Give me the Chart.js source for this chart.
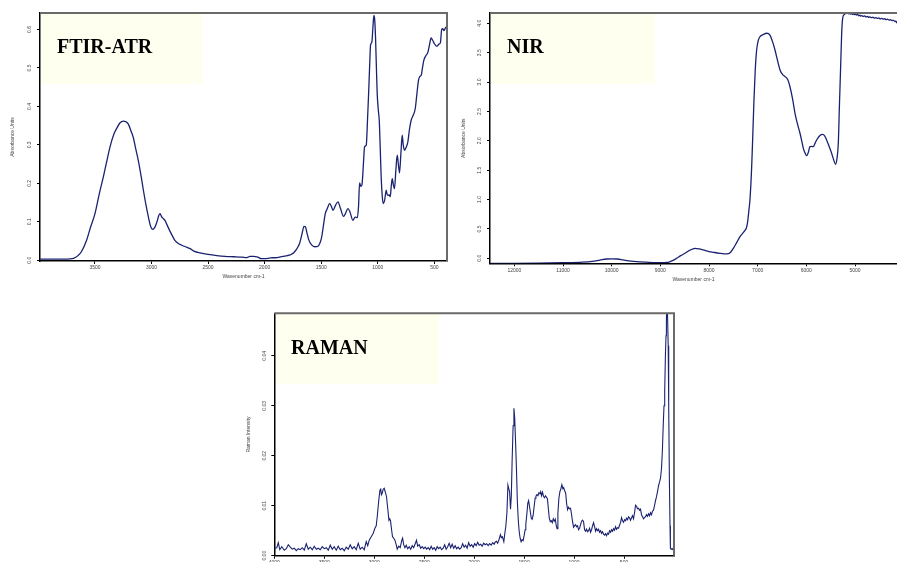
<!DOCTYPE html>
<html>
<head>
<meta charset="utf-8">
<script src="https://cdn.jsdelivr.net/npm/chart.js@4.4.1/dist/chart.umd.min.js"></script>
<style>
body { margin: 0; width: 897px; height: 562px; overflow: hidden; background: #fff; position: relative; }
canvas { position: absolute; z-index: 2; }
.box { position: absolute; background: #fffff0; z-index: 1; }
.name { position: absolute; z-index: 3; font: bold 20px "Liberation Serif", "Times New Roman", serif; line-height: 20px; color: #000; white-space: nowrap; }
</style>
</head>
<body>
<div class="box" style="left:41px;top:14px;width:162px;height:70px"></div>
<div class="name" style="left:57px;top:36px">FTIR-ATR</div>
<div class="box" style="left:491px;top:14px;width:164px;height:70px"></div>
<div class="name" style="left:507px;top:36px">NIR</div>
<div class="box" style="left:275px;top:314px;width:164px;height:70px"></div>
<div class="name" style="left:291px;top:337px">RAMAN</div>

<canvas id="ftir" width="450" height="285" style="left:0;top:0"></canvas>
<canvas id="nir" width="447" height="290" style="left:450px;top:0"></canvas>
<canvas id="raman" width="450" height="285" style="left:230px;top:300px"></canvas>

<script>
// FTIR-ATR spectrum, wavenumber (cm-1) and absorbance
const ftirWavenumber = [3986, 3850, 3750, 3690, 3650, 3620, 3574, 3540, 3500, 3460, 3426, 3390, 3367, 3330, 3308, 3280, 3249, 3225, 3205, 3180,
  3160, 3140, 3116, 3090, 3072, 3050, 3028, 3010, 2990, 2970, 2954, 2935, 2925, 2910, 2895, 2880, 2860, 2836, 2810, 2792,
  2760, 2733, 2700, 2659, 2620, 2571, 2500, 2423, 2350, 2276, 2200, 2158, 2130, 2099, 2060, 2030, 2000, 1950, 1892, 1840,
  1800, 1774, 1740, 1715, 1690, 1670, 1652, 1640, 1625, 1610, 1585, 1558, 1530, 1514, 1500, 1493, 1478, 1464, 1445, 1426,
  1410, 1396, 1375, 1352, 1330, 1302, 1285, 1264, 1245, 1220, 1200, 1181, 1170, 1161, 1150, 1140, 1125, 1117, 1102, 1090,
  1081, 1070, 1064, 1052, 1042, 1034, 1027, 1020, 1012, 1005, 995, 987, 978, 970, 960, 952, 940, 925, 918, 911,
  900, 890, 880, 872, 862, 852, 840, 828, 818, 808, 795, 784, 775, 763, 750, 734, 720, 705, 690, 669,
  655, 640, 628, 616, 605, 593, 575, 558, 545, 528, 515, 499, 485, 475, 460, 446, 435, 425, 415, 400, 388];
const ftirAbsorbance = [0.003, 0.003, 0.003, 0.005, 0.012, 0.022, 0.052, 0.085, 0.121, 0.175, 0.217, 0.265, 0.295, 0.330, 0.343, 0.357, 0.362, 0.360, 0.354, 0.335,
  0.318, 0.290, 0.258, 0.215, 0.182, 0.145, 0.113, 0.090, 0.080, 0.086, 0.098, 0.117, 0.121, 0.113, 0.108, 0.103, 0.090, 0.075, 0.060, 0.051,
  0.043, 0.039, 0.035, 0.030, 0.023, 0.019, 0.015, 0.012, 0.010, 0.009, 0.008, 0.007, 0.010, 0.010, 0.008, 0.004, 0.004, 0.006, 0.007, 0.010,
  0.012, 0.014, 0.020, 0.030, 0.045, 0.068, 0.088, 0.087, 0.070, 0.053, 0.040, 0.035, 0.036, 0.043, 0.055, 0.065, 0.095, 0.121, 0.135, 0.147,
  0.140, 0.130, 0.142, 0.152, 0.135, 0.114, 0.122, 0.134, 0.125, 0.104, 0.112, 0.111, 0.140, 0.201, 0.192, 0.196, 0.260, 0.295, 0.299, 0.370,
  0.433, 0.520, 0.559, 0.568, 0.610, 0.637, 0.625, 0.581, 0.500, 0.433, 0.390, 0.364, 0.290, 0.217, 0.165, 0.147, 0.155, 0.182, 0.172, 0.169,
  0.170, 0.165, 0.195, 0.212, 0.196, 0.186, 0.235, 0.273, 0.250, 0.227, 0.280, 0.325, 0.300, 0.286, 0.293, 0.308, 0.340, 0.364, 0.375, 0.394,
  0.430, 0.468, 0.478, 0.481, 0.500, 0.520, 0.532, 0.540, 0.557, 0.578, 0.572, 0.563, 0.558, 0.557, 0.562, 0.566, 0.600, 0.602, 0.597, 0.605, 0.608];
const ftirXTicks = [3500, 3000, 2500, 2000, 1500, 1000, 500];
const ftirYTicks = [0, 0.1, 0.2, 0.3, 0.4, 0.5, 0.6];

// NIR spectrum
const nirWavenumber = [12500, 12000, 11500, 11000, 10600, 10400, 10240, 10100, 10000, 9880, 9760, 9600, 9486, 9300, 9075, 8900, 8836, 8750, 8665, 8580,
  8493, 8400, 8288, 8200, 8117, 8000, 7911, 7780, 7637, 7560, 7500, 7430, 7363, 7281, 7230, 7206, 7180, 7158, 7123, 7100,
  7076, 7050, 7021, 6990, 6952, 6880, 6815, 6747, 6700, 6644, 6590, 6541, 6490, 6438, 6380, 6336, 6280, 6233, 6180, 6130,
  6090, 6062, 6025, 5993, 5960, 5925, 5890, 5856, 5820, 5788, 5720, 5665, 5620, 5583, 5530, 5480, 5440, 5398, 5370, 5343,
  5320, 5295, 5275, 5254, 5220, 5190, 5170, 5150, 5130, 5110, 5090, 5070, 5050, 5030, 5010, 4990, 4967, 4945, 4920, 4900,
  4880, 4860, 4830, 4800, 4770, 4740, 4720, 4693, 4660, 4630, 4600, 4570, 4540, 4510, 4480, 4450, 4419, 4390, 4360, 4330,
  4300, 4270, 4240, 4210, 4180, 4160, 4137];
const nirAbsorbance = [-0.085, -0.085, -0.082, -0.075, -0.065, -0.052, -0.030, -0.012, -0.008, -0.012, -0.028, -0.048, -0.057, -0.066, -0.074, -0.072, -0.068, -0.040, 0.000, 0.045,
  0.085, 0.135, 0.170, 0.160, 0.142, 0.115, 0.102, 0.085, 0.074, 0.100, 0.170, 0.270, 0.369, 0.454, 0.520, 0.620, 0.820, 1.000, 1.560, 2.100,
  2.695, 3.200, 3.546, 3.700, 3.773, 3.810, 3.830, 3.800, 3.700, 3.546, 3.360, 3.206, 3.130, 3.092, 3.040, 2.920, 2.700, 2.468, 2.280, 2.128,
  1.980, 1.872, 1.790, 1.748, 1.800, 1.900, 1.905, 1.900, 1.960, 2.014, 2.090, 2.110, 2.080, 2.014, 1.900, 1.787, 1.680, 1.600, 1.700, 1.957,
  2.600, 3.262, 3.800, 4.085, 4.150, 4.170, 4.165, 4.175, 4.160, 4.172, 4.158, 4.168, 4.150, 4.162, 4.145, 4.155, 4.140, 4.150, 4.128, 4.140,
  4.122, 4.132, 4.118, 4.125, 4.108, 4.118, 4.100, 4.110, 4.095, 4.103, 4.088, 4.096, 4.082, 4.090, 4.075, 4.083, 4.070, 4.078, 4.062, 4.070,
  4.055, 4.062, 4.045, 4.050, 4.030, 4.035, 4.000];
const nirXTicks = [12000, 11000, 10000, 9000, 8000, 7000, 6000, 5000];
const nirYTicks = [0, 0.5, 1, 1.5, 2, 2.5, 3, 3.5, 4];

// Raman spectrum
const ramanShift = [4000, 3975, 3960, 3945, 3925, 3900, 3880, 3860, 3840, 3820, 3800, 3780, 3760, 3740, 3720, 3700, 3680, 3660, 3640, 3620,
  3600, 3580, 3560, 3540, 3520, 3500, 3480, 3460, 3440, 3420, 3400, 3380, 3360, 3340, 3320, 3300, 3280, 3260, 3240, 3220,
  3200, 3180, 3160, 3140, 3120, 3100, 3080, 3065, 3050, 3030, 3010, 2993, 2980, 2970, 2955, 2943, 2935, 2928, 2920, 2910,
  2900, 2890, 2877, 2865, 2853, 2845, 2837, 2825, 2817, 2805, 2793, 2780, 2770, 2755, 2740, 2725, 2716, 2705, 2693, 2680,
  2665, 2650, 2635, 2620, 2605, 2590, 2577, 2565, 2550, 2535, 2520, 2505, 2490, 2475, 2460, 2445, 2430, 2415, 2400, 2385,
  2370, 2355, 2340, 2325, 2310, 2295, 2280, 2265, 2250, 2235, 2220, 2205, 2190, 2175, 2160, 2145, 2130, 2115, 2100, 2085,
  2070, 2055, 2040, 2025, 2010, 1995, 1980, 1965, 1950, 1935, 1920, 1905, 1890, 1875, 1860, 1845, 1830, 1815, 1800, 1790,
  1777, 1765, 1750, 1737, 1727, 1717, 1703, 1693, 1683, 1672, 1662, 1655, 1645, 1636, 1628, 1620, 1610, 1602, 1594, 1585,
  1576, 1568, 1558, 1550, 1540, 1530, 1520, 1510, 1500, 1490, 1483, 1472, 1463, 1455, 1447, 1438, 1428, 1420, 1410, 1400,
  1390, 1382, 1372, 1362, 1352, 1342, 1334, 1326, 1316, 1306, 1296, 1286, 1276, 1266, 1258, 1248, 1238, 1228, 1218, 1208,
  1198, 1188, 1178, 1170, 1162, 1152, 1142, 1132, 1122, 1112, 1104, 1094, 1084, 1075, 1065, 1055, 1045, 1035, 1025, 1015,
  1005, 995, 985, 975, 965, 955, 945, 935, 925, 915, 905, 895, 885, 875, 865, 855, 845, 835, 825, 815,
  805, 795, 785, 775, 765, 755, 745, 735, 725, 715, 705, 695, 685, 675, 665, 655, 645, 635, 625, 615,
  605, 595, 585, 575, 565, 555, 545, 535, 525, 515, 505, 495, 485, 475, 465, 455, 445, 435, 425, 415,
  405, 395, 385, 375, 365, 355, 345, 335, 325, 315, 305, 295, 285, 275, 265, 255, 245, 235, 225, 215,
  205, 195, 185, 175, 165, 155, 145, 135, 125, 116, 108, 100, 93, 86, 80, 76, 70, 64, 58, 53,
  46, 40, 36, 28, 20, 12, 6, 0];
const ramanIntensity = [0.0015, 0.0016, 0.0026, 0.0012, 0.0018, 0.0011, 0.0014, 0.0022, 0.0017, 0.0013, 0.0015, 0.0010, 0.0014, 0.0012, 0.0016, 0.0011, 0.0024, 0.0013, 0.0017, 0.0012,
  0.0019, 0.0013, 0.0015, 0.0012, 0.0018, 0.0014, 0.0016, 0.0011, 0.0021, 0.0013, 0.0018, 0.0011, 0.0019, 0.0012, 0.0015, 0.0010, 0.0017, 0.0013, 0.0022, 0.0014,
  0.0018, 0.0012, 0.0025, 0.0013, 0.0017, 0.0012, 0.0028, 0.0020, 0.0031, 0.0038, 0.0045, 0.0055, 0.0060, 0.0078, 0.0110, 0.0131, 0.0133, 0.0122, 0.0125, 0.0133,
  0.0135, 0.0128, 0.0118, 0.0095, 0.0071, 0.0074, 0.0070, 0.0050, 0.0038, 0.0035, 0.0031, 0.0022, 0.0013, 0.0019, 0.0016, 0.0030, 0.0035, 0.0022, 0.0016, 0.0021,
  0.0014, 0.0018, 0.0013, 0.0020, 0.0016, 0.0024, 0.0031, 0.0019, 0.0022, 0.0015, 0.0018, 0.0014, 0.0017, 0.0013, 0.0016, 0.0012, 0.0019, 0.0013, 0.0016, 0.0011,
  0.0018, 0.0014, 0.0017, 0.0012, 0.0015, 0.0022, 0.0013, 0.0018, 0.0025, 0.0016, 0.0023, 0.0015, 0.0020, 0.0014, 0.0017, 0.0013, 0.0016, 0.0024, 0.0017, 0.0021,
  0.0015, 0.0026, 0.0019, 0.0022, 0.0017, 0.0024, 0.0020, 0.0027, 0.0021, 0.0023, 0.0019, 0.0025, 0.0022, 0.0024, 0.0020, 0.0024, 0.0021, 0.0026, 0.0023, 0.0027,
  0.0029, 0.0025, 0.0033, 0.0042, 0.0036, 0.0038, 0.0028, 0.0045, 0.0059, 0.0086, 0.0141, 0.0135, 0.0128, 0.0093, 0.0120, 0.0190, 0.0260, 0.0295, 0.0275, 0.0225,
  0.0170, 0.0110, 0.0070, 0.0050, 0.0035, 0.0028, 0.0032, 0.0030, 0.0040, 0.0052, 0.0062, 0.0085, 0.0105, 0.0110, 0.0100, 0.0088, 0.0075, 0.0073, 0.0080, 0.0098,
  0.0115, 0.0119, 0.0122, 0.0120, 0.0126, 0.0124, 0.0128, 0.0120, 0.0127, 0.0119, 0.0116, 0.0120, 0.0117, 0.0113, 0.0095, 0.0075, 0.0068, 0.0070, 0.0066, 0.0074,
  0.0069, 0.0073, 0.0060, 0.0054, 0.0085, 0.0115, 0.0128, 0.0134, 0.0142, 0.0134, 0.0136, 0.0130, 0.0125, 0.0105, 0.0092, 0.0097, 0.0094, 0.0095, 0.0082, 0.0068,
  0.0057, 0.0060, 0.0062, 0.0058, 0.0060, 0.0052, 0.0055, 0.0062, 0.0069, 0.0071, 0.0068, 0.0052, 0.0049, 0.0053, 0.0048, 0.0050, 0.0055, 0.0047, 0.0052, 0.0060,
  0.0066, 0.0058, 0.0049, 0.0054, 0.0050, 0.0053, 0.0047, 0.0050, 0.0045, 0.0048, 0.0043, 0.0041, 0.0044, 0.0040, 0.0045, 0.0043, 0.0050, 0.0047, 0.0052, 0.0049,
  0.0054, 0.0051, 0.0058, 0.0053, 0.0056, 0.0055, 0.0061, 0.0066, 0.0076, 0.0070, 0.0067, 0.0072, 0.0070, 0.0075, 0.0072, 0.0078, 0.0076, 0.0071, 0.0076, 0.0080,
  0.0074, 0.0086, 0.0101, 0.0099, 0.0094, 0.0095, 0.0091, 0.0093, 0.0082, 0.0078, 0.0074, 0.0076, 0.0078, 0.0082, 0.0079, 0.0084, 0.0080, 0.0086, 0.0082, 0.0089,
  0.0091, 0.0100, 0.0110, 0.0118, 0.0128, 0.0140, 0.0147, 0.0155, 0.0175, 0.0211, 0.0260, 0.0300, 0.0330, 0.0400, 0.0440, 0.0470, 0.0530, 0.0530, 0.0420, 0.0300,
  0.0150, 0.0060, 0.0015, 0.0013, 0.0014, 0.0013, 0.0014, 0.0029];
const ramanXTicks = [4000, 3500, 3000, 2500, 2000, 1500, 1000, 500];
const ramanYTicks = [0, 0.01, 0.02, 0.03, 0.04];

const lineColor = '#1a2270';
const tickFont = { family: '"Liberation Sans", Arial, sans-serif', size: 5 };

// top (and right) edge of the plot frame
const frame = {
    id: 'frame',
    afterDraw(chart, args, opts) {
        const { ctx, chartArea: a } = chart;
        ctx.save();
        ctx.strokeStyle = '#6a6a6a';
        ctx.lineWidth = 2;
        ctx.beginPath();
        ctx.moveTo(a.left, a.top);
        ctx.lineTo(a.right, a.top);
        if (opts.right) ctx.lineTo(a.right, a.bottom);
        ctx.stroke();
        ctx.restore();
    }
};

function spectrum(id, xs, ys, o) {
    new Chart(document.getElementById(id), {
        type: 'line',
        data: {
            datasets: [{
                data: xs.map((x, i) => ({ x, y: ys[i] })),
                borderColor: lineColor,
                borderWidth: o.lw,
                pointRadius: 0,
                fill: false,
                tension: o.smooth ? 0.4 : 0,
                cubicInterpolationMode: o.smooth ? 'monotone' : 'default'
            }]
        },
        options: {
            responsive: false,
            animation: false,
            devicePixelRatio: 1,
            layout: { padding: o.padding },
            plugins: { legend: { display: false }, tooltip: { enabled: false }, frame: { right: o.right } },
            scales: {
                x: {
                    type: 'linear',
                    reverse: true,
                    min: o.xMin, max: o.xMax,
                    afterFit: s => { s.height = o.xh; },
                    afterBuildTicks: s => { s.ticks = o.xTicks.map(v => ({ value: v })); },
                    ticks: { autoSkip: false, maxRotation: 0, font: tickFont, color: '#444', padding: 1, callback: v => String(v) },
                    grid: { drawOnChartArea: false, drawTicks: true, tickLength: 3, color: '#000' },
                    border: { display: true, color: '#000', width: 1.5 },
                    title: { display: !!o.xTitle, text: o.xTitle, font: tickFont, color: '#444', padding: { top: 0, bottom: o.xtp } }
                },
                y: {
                    type: 'linear',
                    min: o.yMin, max: o.yMax,
                    afterFit: s => { s.width = o.yw; },
                    afterBuildTicks: s => { s.ticks = o.yTicks.map(v => ({ value: v })); },
                    ticks: { autoSkip: false, minRotation: 90, maxRotation: 90, crossAlign: 'center', font: tickFont, color: '#444', padding: o.ytp, callback: v => v.toFixed(o.dec) },
                    grid: { drawOnChartArea: false, drawTicks: true, tickLength: 3, color: '#000' },
                    border: { display: true, color: '#000', width: 1.5 },
                    title: { display: true, text: o.yTitle, font: tickFont, color: '#444', padding: { top: o.ytt, bottom: 0 } }
                }
            }
        },
        plugins: [frame]
    });
}

spectrum('ftir', ftirWavenumber, ftirAbsorbance, {
    lw: 1.3, smooth: true, right: true,
    padding: { top: 13, right: 3, left: 0, bottom: 0 },
    xMin: 388, xMax: 3986, xTicks: ftirXTicks, xh: 24, xTitle: 'Wavenumber cm-1', xtp: 5.3,
    yMin: -0.002, yMax: 0.643, yTicks: ftirYTicks, yw: 40, ytp: 3.5, dec: 1, yTitle: 'Absorbance Units', ytt: 10
});

spectrum('nir', nirWavenumber, nirAbsorbance, {
    lw: 1.3, smooth: true, right: false,
    padding: { top: 13, right: 0, left: 0, bottom: 0 },
    xMin: 4137, xMax: 12500, xTicks: nirXTicks, xh: 26.7, xTitle: 'Wavenumber cm-1', xtp: 7.5,
    yMin: -0.085, yMax: 4.175, yTicks: nirYTicks, yw: 40, ytp: 3.5, dec: 1, yTitle: 'Absorbance Units', ytt: 10.3
});

spectrum('raman', ramanShift, ramanIntensity, {
    lw: 1.1, smooth: false, right: true,
    padding: { top: 13.3, right: 6, left: 0, bottom: 0 },
    xMin: 0, xMax: 4000, xTicks: ramanXTicks, xh: 29.3, xTitle: '', xtp: 0,
    yMin: 0, yMax: 0.0485, yTicks: ramanYTicks, yw: 44.3, ytp: 2, dec: 2, yTitle: 'Raman Intensity', ytt: 16
});
</script>
</body>
</html>
